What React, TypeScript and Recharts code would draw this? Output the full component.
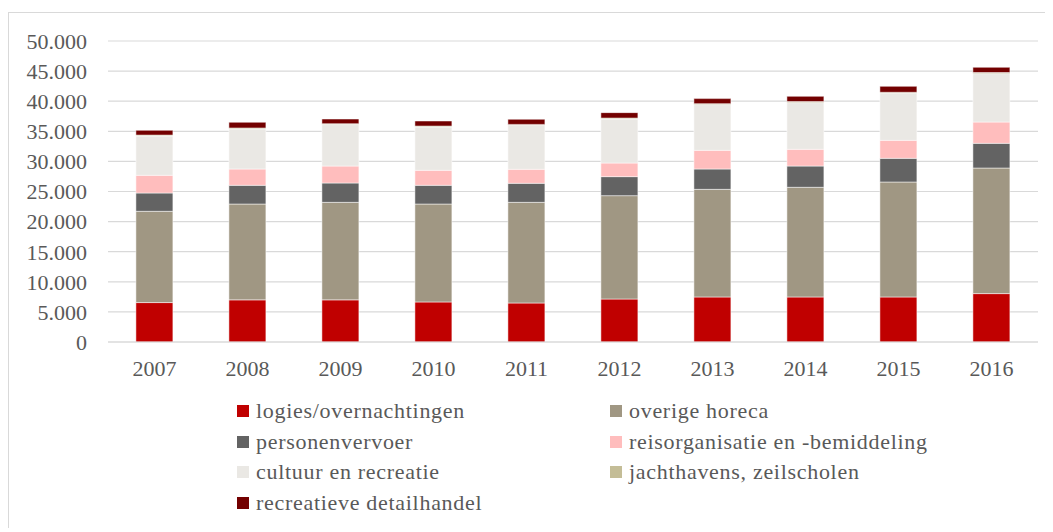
import React from 'react';
import { BarChart, Bar, XAxis, YAxis, CartesianGrid, Legend } from 'recharts';

const years = ['2007', '2008', '2009', '2010', '2011', '2012', '2013', '2014', '2015', '2016'];
const logies = [6550, 7000, 7000, 6650, 6480, 7140, 7480, 7480, 7480, 8040];
const horeca = [15160, 15920, 16200, 16270, 16720, 17170, 17880, 18220, 19100, 20860];
const personen = [3040, 3110, 3210, 3110, 3160, 3160, 3380, 3530, 3930, 4100];
const reis = [2940, 2710, 2820, 2490, 2330, 2260, 3100, 2780, 2990, 3540];
const cultuur = [6530, 6650, 6880, 7190, 7310, 7310, 7590, 7750, 7810, 8040];
const jacht = [150, 160, 150, 160, 150, 160, 160, 170, 170, 180];
const detail = [795, 950, 780, 840, 850, 900, 840, 880, 990, 870];
const yTicks = [0, 5000, 10000, 15000, 20000, 25000, 30000, 35000, 40000, 45000, 50000];

const series = [
  { key: 'logies', name: 'logies/overnachtingen', color: '#C00000', values: logies },
  { key: 'horeca', name: 'overige horeca', color: '#A09783', values: horeca },
  { key: 'personen', name: 'personenvervoer', color: '#636363', values: personen },
  { key: 'reis', name: 'reisorganisatie en -bemiddeling', color: '#FFBDBD', values: reis },
  { key: 'cultuur', name: 'cultuur en recreatie', color: '#EAE8E4', values: cultuur },
  { key: 'jacht', name: 'jachthavens, zeilscholen', color: '#C4BD97', values: jacht },
  { key: 'detail', name: 'recreatieve detailhandel', color: '#730000', values: detail },
];

const data = years.map((y, i) => {
  const row: Record<string, any> = { year: y };
  series.forEach((s) => {
    row[s.key] = s.values[i];
  });
  return row;
});

const fmt = (n: number) => (n === 0 ? '0' : String(n).replace(/\B(?=(\d{3})+(?!\d))/g, '.'));

const FONT = '"Liberation Serif", "Times New Roman", serif';
const TEXT = '#595959';

const LegendContent = () => (
  <div style={{ position: 'relative', height: 122, width: '100%' }}>
    {series.map((s, i) => {
      const col = i % 2;
      const row = Math.floor(i / 2);
      const left = col === 0 ? 229 : 602;
      return (
        <div
          key={s.key}
          style={{
            position: 'absolute',
            left,
            top: row * 30.5,
            height: 30.5,
            display: 'flex',
            alignItems: 'center',
            fontFamily: FONT,
            fontSize: 22,
            color: TEXT,
            whiteSpace: 'nowrap',
            letterSpacing: 0.7,
          }}
        >
          <span style={{ display: 'inline-block', width: 12, height: 12, background: s.color, marginRight: 7 }} />
          <span>{s.name}</span>
        </div>
      );
    })}
  </div>
);

export default function App() {
  return (
    <div style={{ position: 'relative', width: 1037, height: 520 }}>
      <div
        style={{
          position: 'absolute',
          left: 0,
          top: 4,
          width: 1045,
          height: 520,
          borderLeft: '1px solid #d9d9d9',
          borderTop: '1px solid #d9d9d9',
          boxSizing: 'border-box',
        }}
      />
      <BarChart
        width={1037}
        height={520}
        data={data}
        margin={{ top: 33, right: 7, left: 0, bottom: 10 }}
        barCategoryGap="30%"
      >
        <CartesianGrid vertical={false} stroke="#d9d9d9" strokeWidth={1.2} />
        <XAxis
          dataKey="year"
          height={54}
          tickLine={false}
          axisLine={{ stroke: '#d9d9d9', strokeWidth: 1.2 }}
          tickMargin={12}
          interval={0}
          tick={{ fontFamily: FONT, fontSize: 22, fill: TEXT }}
        />
        <YAxis
          width={100}
          domain={[0, 50000]}
          ticks={yTicks}
          interval={0}
          tickFormatter={fmt}
          axisLine={false}
          tickLine={false}
          tickMargin={15}
          tick={{ fontFamily: FONT, fontSize: 22, fill: TEXT }}
        />
        <Legend verticalAlign="bottom" content={<LegendContent />} />
        {series.map((s) => (
          <Bar
            key={s.key}
            dataKey={s.key}
            name={s.name}
            stackId="a"
            fill={s.color}
            stroke="#ffffff"
            strokeWidth={0.5}
            isAnimationActive={false}
          />
        ))}
      </BarChart>
    </div>
  );
}
